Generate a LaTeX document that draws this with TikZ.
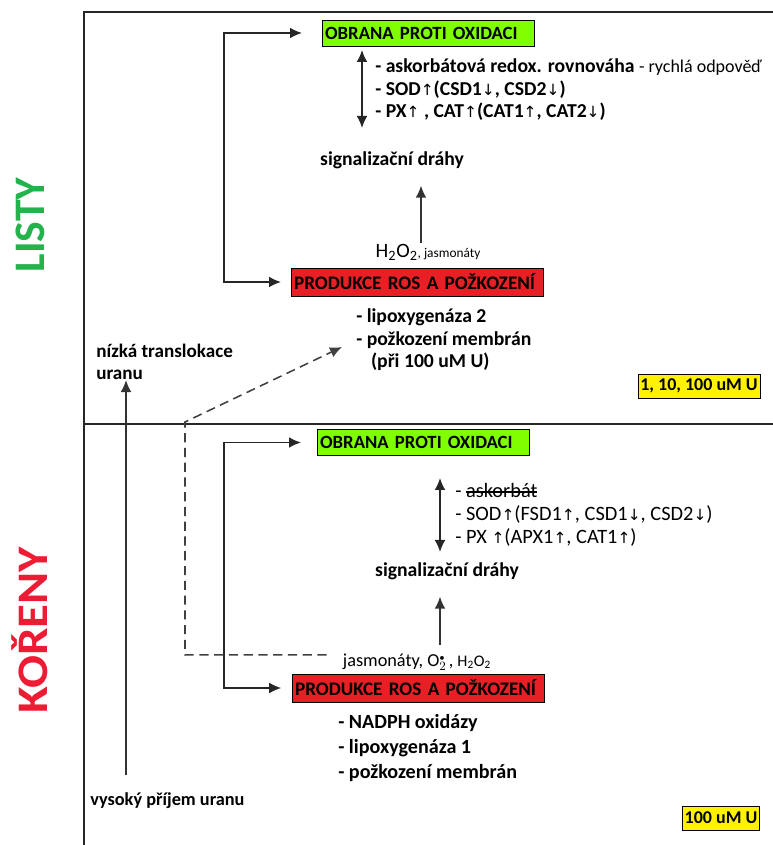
\documentclass[tikz,border=0pt]{standalone}
\usepackage{fontspec}
\setmainfont{Carlito}
\newfontfamily\arrfont{DejaVu Sans}
\usetikzlibrary{arrows.meta,positioning}

\definecolor{listygreen}{RGB}{36,178,76}
\definecolor{korenred}{RGB}{237,28,52}
\definecolor{obrgreen}{RGB}{128,255,0}
\definecolor{rosred}{RGB}{232,32,38}

\newcommand{\strk}[1]{\setbox0\hbox{#1}\rlap{\rule[0.24em]{\wd0}{0.08em}}\box0}
\newcommand{\ua}{{\arrfont\mdseries\fontsize{11}{12}\selectfont ↑}}
\newcommand{\da}{{\arrfont\mdseries\fontsize{11}{12}\selectfont ↓}}

\begin{document}
\begin{tikzpicture}[
  obr/.style ={draw=black, fill=obrgreen, rectangle, inner xsep=2pt,
               minimum height=0.65cm, text width=5.15cm, align=left,
               font=\fontsize{13.3}{15}\selectfont\bfseries},
  ros/.style ={draw=black, fill=rosred, rectangle, inner xsep=2pt,
               minimum height=0.7cm, text width=6.17cm, align=left,
               font=\fontsize{13.6}{15}\selectfont\bfseries},
  conc/.style={draw=black, fill=yellow, rectangle, inner xsep=1.5pt,
               minimum height=0.6cm, font=\fontsize{12.8}{14}\selectfont\bfseries},
  txt/.style ={align=left, inner sep=0pt,
               font=\fontsize{14}{16}\selectfont\bfseries},
  side/.style={rotate=90, inner sep=0pt, font=\fontsize{31}{31}\selectfont\bfseries},
  arr/.style ={-{Latex[length=0.3cm,width=0.27cm]}, line width=1.1pt, black!80},
  darr/.style={{Latex[length=0.3cm,width=0.27cm]}-{Latex[length=0.3cm,width=0.27cm]},
               line width=1.1pt, black!85},
  dsh/.style ={dash pattern=on 6.5pt off 4pt, line width=1.1pt, black!75},
  frame/.style={line width=1.8pt, black!85}
]
\useasboundingbox (0,0) rectangle (19.325,21.125);

%% -- frame ------------------------------------------------------------
\draw[frame] (2.1,0) -- (2.1,20.825) -- (19.325,20.825);
\draw[frame] (2.1,10.525) -- (19.325,10.525);

\node[side, listygreen] (listy) at (0.75,15.5)  {LISTY};
\node[side, korenred, xscale=1.12] (koreny) at (0.75,5.375) {KOŘENY};

%% -- LISTY ------------------------------------------------------------
\node[obr, anchor=west] (obr1) at (8.05,20.3)   {OBRANA PROTI OXIDACI};
\node[ros, anchor=west] (ros1) at (7.275,14.075) {PRODUKCE ROS A POŽKOZENÍ};

\node[txt, anchor=west] (obl1) at (9.375,18.875)
    {- askorbátová redox. rovnováha {\mdseries\fontsize{12.8}{14}\selectfont - rychlá odpověď}\\
     - SOD\ua(CSD1\da, CSD2\da)\\
     - PX\ua\ , CAT\ua(CAT1\ua, CAT2\da)};
\node[txt] (sig1) at (9.8,17.125) {signalizační dráhy};
\node[txt, font=\fontsize{14.5}{16}\selectfont] (h2o1) at (10.7,14.825)
    {H\textsubscript{2}O\textsubscript{2}{\fontsize{9.5}{10}\selectfont, jasmonáty}};
\node[txt, anchor=west] (lip1) at (8.9,12.625)
    {- lipoxygenáza 2\\
     - požkození membrán\\
     \hspace*{0.75em}(při 100 uM U)};
\node[conc] (conc1) at (17.475,11.475) {1, 10, 100 uM U};
\node[txt, anchor=west, font=\fontsize{13.6}{15.6}\selectfont\bfseries] (niz) at (2.4,12.075)
    {nízká translokace\\uranu};

\coordinate (brk1) at (5.6,17);
\draw[darr, shorten <=0.5cm, shorten >=0.25cm] (obr1.west) -| (brk1) |- (ros1.west);
\coordinate (da1) at (9.05,19.875);
\coordinate (db1) at (9.05,17.925);
\draw[darr] (da1) -- (db1);
\coordinate (up1) at (10.525,15.05);
\draw[arr, shorten >=0.42cm] (up1) -- (up1 |- sig1.south);

%% -- KORENY -----------------------------------------------------------
\node[obr, anchor=west] (obr2) at (7.925,10.0625) {OBRANA PROTI OXIDACI};
\node[ros, anchor=west] (ros2) at (7.3,3.925)      {PRODUKCE ROS A POŽKOZENÍ};

\node[txt, anchor=west, font=\fontsize{14.5}{16.3}\selectfont] (obl2) at (11.375,8.25)
    {- \strk{askorbát}\\
     - SOD\ua(FSD1\ua, CSD1\da, CSD2\da)\\
     - PX \ua(APX1\ua, CAT1\ua)};
\node[txt] (sig2) at (11.175,6.85) {signalizační dráhy};
\node[txt, font=\fontsize{13}{14}\selectfont] (jas2) at (10.425,4.575)
    {jasmonáty, O$_2^{\scriptscriptstyle\bullet}$\kern1.5pt, {\fontsize{11.5}{12}\selectfont H\textsubscript{2}O\textsubscript{2}}};
\node[txt, anchor=west, font=\fontsize{14.3}{18}\selectfont\bfseries] (lip2) at (8.45,2.425)
    {- NADPH oxidázy\\
     - lipoxygenáza 1\\
     - požkození membrán};
\node[txt, anchor=west, font=\fontsize{13}{15}\selectfont\bfseries] (vys) at (2.25,1.1)
    {vysoký příjem uranu};
\node[conc] (conc2) at (18.025,0.675) {100 uM U};

\coordinate (brk2) at (5.6,7);
\draw[darr, shorten <=0.4cm, shorten >=0.27cm] (obr2.west) -| (brk2) |- (ros2.west);
\coordinate (da2) at (11.0,9.175);
\coordinate (db2) at (11.0,7.325);
\draw[darr] (da2) -- (db2);
\coordinate (up2) at (11.0,5.0);
\draw[arr, shorten >=0.42cm] (up2) -- (up2 |- sig2.south);

%% -- uptake -----------------------------------------------------------
\coordinate (vup) at (3.15,1.75);
\draw[arr] (vup) -- (vup |- niz.south);

\coordinate (dk)   at (4.625,10.575);
\coordinate (dtip) at (8.55,12.45);
\draw[dsh, -{Latex[length=0.3cm,width=0.27cm]}, shorten <=0.4cm]
    ([yshift=5pt]jas2.west) -| (dk) -- (dtip);

\end{tikzpicture}
\end{document}
